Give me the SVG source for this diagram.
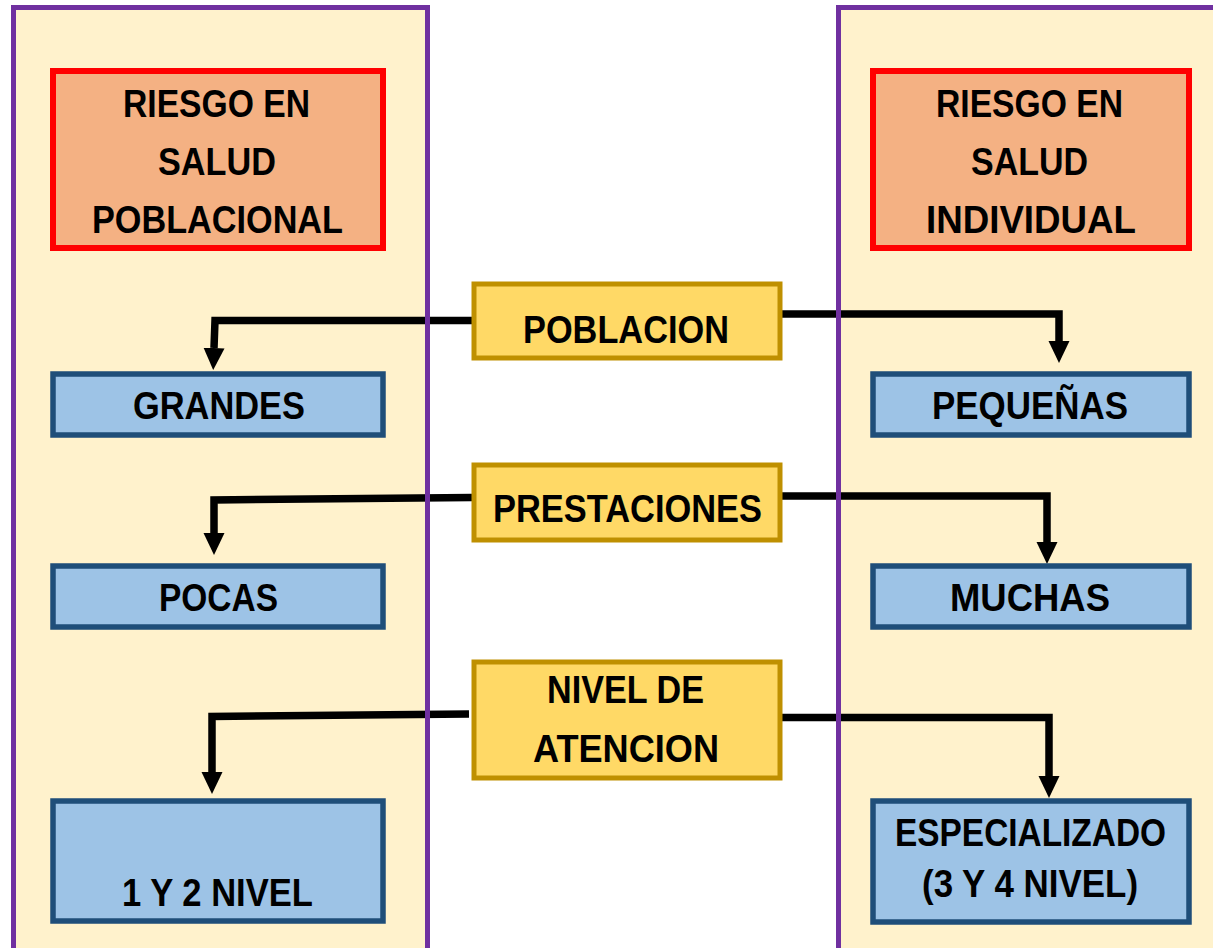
<svg xmlns="http://www.w3.org/2000/svg" width="1213" height="948" viewBox="0 0 1213 948">
  <style>
    .panelfill { fill: #FFF2CC; stroke: none; }
    .panelline { fill: none; stroke: #7030A0; stroke-width: 5; }
    .red { fill: #F4B183; stroke: #FF0000; stroke-width: 6; }
    .yellow { fill: #FFD966; stroke: #BF9000; stroke-width: 5; }
    .blue { fill: #9DC3E6; stroke: #1F4E79; stroke-width: 5.5; }
    .conn { fill: none; stroke: #000000; stroke-width: 7.5; stroke-linejoin: miter; marker-end: url(#arrow); }
    text { font-family: "Liberation Sans", Arial, sans-serif; font-weight: bold; font-size: 39px; fill: #000000; text-anchor: middle; }
  </style>
  <defs>
    <marker id="arrow" markerUnits="userSpaceOnUse" viewBox="0 -11 22 22" markerWidth="22" markerHeight="22" refX="0" refY="0" orient="auto">
      <path d="M0,-10.5 L22,0 L0,10.5 Z" fill="#000000"/>
    </marker>
  </defs>
  <rect width="1213" height="948" fill="#FFFFFF"/>
  <g id="panels-fill">
    <rect class="panelfill" x="13.5" y="7.5" width="414" height="960"/>
    <rect class="panelfill" x="838.5" y="7.5" width="400" height="960"/>
  </g>
  <g id="connectors">
    <path class="conn" d="M472,320.5 L215,320.5 L214,348"/>
    <path class="conn" d="M781,314 L1059,314 L1059,341"/>
    <path class="conn" d="M472,497.5 L214,500 L214,533"/>
    <path class="conn" d="M781,496 L1047,496 L1047,542"/>
    <path class="conn" d="M469,714 L212,716.5 L212,772"/>
    <path class="conn" d="M782,717.5 L1049,717.5 L1049,776"/>
  </g>
  <g id="panels-border">
    <rect class="panelline" x="13.5" y="7.5" width="414" height="960"/>
    <rect class="panelline" x="838.5" y="7.5" width="400" height="960"/>
  </g>
  <g id="riesgo-poblacional">
    <rect class="red" x="53" y="71" width="330" height="177"/>
    <text x="216.5" y="117" textLength="187" lengthAdjust="spacingAndGlyphs">RIESGO EN</text>
    <text x="217" y="175" textLength="118" lengthAdjust="spacingAndGlyphs">SALUD</text>
    <text x="217.5" y="233" textLength="251" lengthAdjust="spacingAndGlyphs">POBLACIONAL</text>
  </g>
  <g id="riesgo-individual">
    <rect class="red" x="873" y="71" width="316" height="177"/>
    <text x="1029.5" y="117" textLength="187" lengthAdjust="spacingAndGlyphs">RIESGO EN</text>
    <text x="1029.5" y="175" textLength="117" lengthAdjust="spacingAndGlyphs">SALUD</text>
    <text x="1031" y="233" textLength="210" lengthAdjust="spacingAndGlyphs">INDIVIDUAL</text>
  </g>
  <g id="poblacion">
    <rect class="yellow" x="474" y="284" width="306" height="74"/>
    <text x="626" y="343" textLength="206" lengthAdjust="spacingAndGlyphs">POBLACION</text>
  </g>
  <g id="prestaciones">
    <rect class="yellow" x="474" y="465" width="306" height="75"/>
    <text x="627.5" y="522" textLength="269" lengthAdjust="spacingAndGlyphs">PRESTACIONES</text>
  </g>
  <g id="nivel-atencion">
    <rect class="yellow" x="474" y="662" width="306" height="116"/>
    <text x="625.5" y="703" textLength="157" lengthAdjust="spacingAndGlyphs">NIVEL DE</text>
    <text x="626" y="762" textLength="186" lengthAdjust="spacingAndGlyphs">ATENCION</text>
  </g>
  <g id="grandes">
    <rect class="blue" x="53" y="374" width="330" height="61"/>
    <text x="219" y="419" textLength="172" lengthAdjust="spacingAndGlyphs">GRANDES</text>
  </g>
  <g id="pequenas">
    <rect class="blue" x="873" y="374" width="316" height="61"/>
    <text x="1030" y="419" textLength="196" lengthAdjust="spacingAndGlyphs">PEQUEÑAS</text>
  </g>
  <g id="pocas">
    <rect class="blue" x="53" y="566" width="330" height="61"/>
    <text x="218.5" y="611" textLength="119" lengthAdjust="spacingAndGlyphs">POCAS</text>
  </g>
  <g id="muchas">
    <rect class="blue" x="873" y="566" width="316" height="61"/>
    <text x="1030" y="611" textLength="160" lengthAdjust="spacingAndGlyphs">MUCHAS</text>
  </g>
  <g id="nivel-1-2">
    <rect class="blue" x="53" y="801" width="330" height="120"/>
    <text x="217.5" y="906" textLength="191" lengthAdjust="spacingAndGlyphs">1 Y 2 NIVEL</text>
  </g>
  <g id="especializado">
    <rect class="blue" x="873" y="801" width="316" height="121"/>
    <text x="1030.5" y="846" textLength="271" lengthAdjust="spacingAndGlyphs">ESPECIALIZADO</text>
    <text x="1030" y="897" textLength="216" lengthAdjust="spacingAndGlyphs">(3 Y 4 NIVEL)</text>
  </g>
</svg>
